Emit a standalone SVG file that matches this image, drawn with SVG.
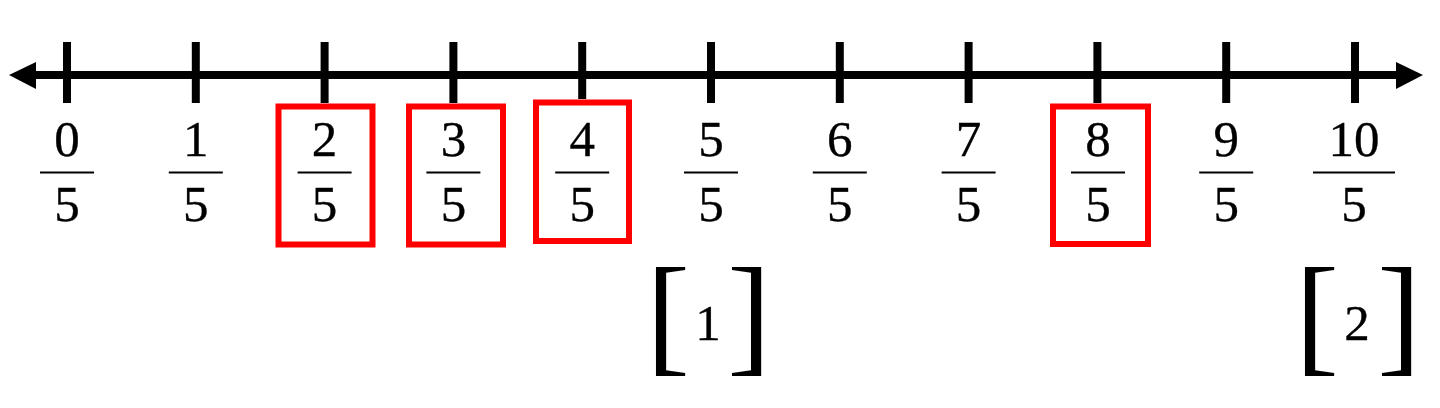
<svg xmlns="http://www.w3.org/2000/svg" width="1440" height="408" viewBox="0 0 1440 408">
<style>
.t{font-family:"Liberation Serif","Times New Roman",serif;font-size:51px;fill:#000;stroke:#000;stroke-width:0.35;text-anchor:middle}
.br{font-family:"Liberation Serif","Times New Roman",serif;font-size:131px;fill:#000;text-anchor:middle}
.tick{stroke:#000;stroke-width:8}
.bar{stroke:#000;stroke-width:2}
.hl{fill:none;stroke:#ff0000;stroke-width:6}
</style>
<rect width="1440" height="408" fill="#fff"/>
<g id="connectors">
<line x1="30" y1="75" x2="1402" y2="75" stroke="#000" stroke-width="8"/>
<polygon points="9,75 36,62 36,89" fill="#000"/>
<polygon points="1423,75 1396,62 1396,89" fill="#000"/>
</g>
<g id="tick0"><line class="tick" x1="67" y1="42" x2="67" y2="103"/><text class="t" x="67" y="156">0</text><line class="bar" x1="40" y1="172.5" x2="94" y2="172.5"/><text class="t" x="67" y="221">5</text></g>
<g id="tick1"><line class="tick" x1="195.8" y1="42" x2="195.8" y2="103"/><text class="t" x="195.8" y="156">1</text><line class="bar" x1="168.8" y1="172.5" x2="222.8" y2="172.5"/><text class="t" x="195.8" y="221">5</text></g>
<g id="tick2"><line class="tick" x1="324.6" y1="42" x2="324.6" y2="103"/><text class="t" x="324.6" y="156">2</text><line class="bar" x1="297.6" y1="172.5" x2="351.6" y2="172.5"/><text class="t" x="324.6" y="221">5</text><rect class="hl" x="278.5" y="106.5" width="94" height="138"/></g>
<g id="tick3"><line class="tick" x1="453.4" y1="42" x2="453.4" y2="103"/><text class="t" x="453.4" y="156">3</text><line class="bar" x1="426.4" y1="172.5" x2="480.4" y2="172.5"/><text class="t" x="453.4" y="221">5</text><rect class="hl" x="409" y="106.5" width="94" height="138"/></g>
<g id="tick4"><line class="tick" x1="582.2" y1="42" x2="582.2" y2="99"/><text class="t" x="582.2" y="156">4</text><line class="bar" x1="555.2" y1="172.5" x2="609.2" y2="172.5"/><text class="t" x="582.2" y="221">5</text><rect class="hl" x="536" y="102.5" width="93" height="138.5"/></g>
<g id="tick5"><line class="tick" x1="711" y1="42" x2="711" y2="103"/><text class="t" x="711" y="156">5</text><line class="bar" x1="684" y1="172.5" x2="738" y2="172.5"/><text class="t" x="711" y="221">5</text></g>
<g id="tick6"><line class="tick" x1="839.8" y1="42" x2="839.8" y2="103"/><text class="t" x="839.8" y="156">6</text><line class="bar" x1="812.8" y1="172.5" x2="866.8" y2="172.5"/><text class="t" x="839.8" y="221">5</text></g>
<g id="tick7"><line class="tick" x1="968.6" y1="42" x2="968.6" y2="103"/><text class="t" x="968.6" y="156">7</text><line class="bar" x1="941.6" y1="172.5" x2="995.6" y2="172.5"/><text class="t" x="968.6" y="221">5</text></g>
<g id="tick8"><line class="tick" x1="1097.4" y1="42" x2="1097.4" y2="103"/><text class="t" x="1098" y="156">8</text><line class="bar" x1="1071" y1="172.5" x2="1125" y2="172.5"/><text class="t" x="1098" y="221">5</text><rect class="hl" x="1053" y="106.5" width="95" height="137.5"/></g>
<g id="tick9"><line class="tick" x1="1226.2" y1="42" x2="1226.2" y2="103"/><text class="t" x="1226.2" y="156">9</text><line class="bar" x1="1199.2" y1="172.5" x2="1253.2" y2="172.5"/><text class="t" x="1226.2" y="221">5</text></g>
<g id="tick10"><line class="tick" x1="1355" y1="42" x2="1355" y2="103"/><text class="t" x="1354" y="156">10</text><line class="bar" x1="1313" y1="172.5" x2="1395" y2="172.5"/><text class="t" x="1354" y="221">5</text></g>
<g id="answer1"><text class="br" x="668" y="358">[</text><text class="t" x="708" y="340">1</text><text class="br" x="749" y="358">]</text></g>
<g id="answer2"><text class="br" x="1317" y="358">[</text><text class="t" x="1357" y="340">2</text><text class="br" x="1399" y="358">]</text></g>
</svg>
